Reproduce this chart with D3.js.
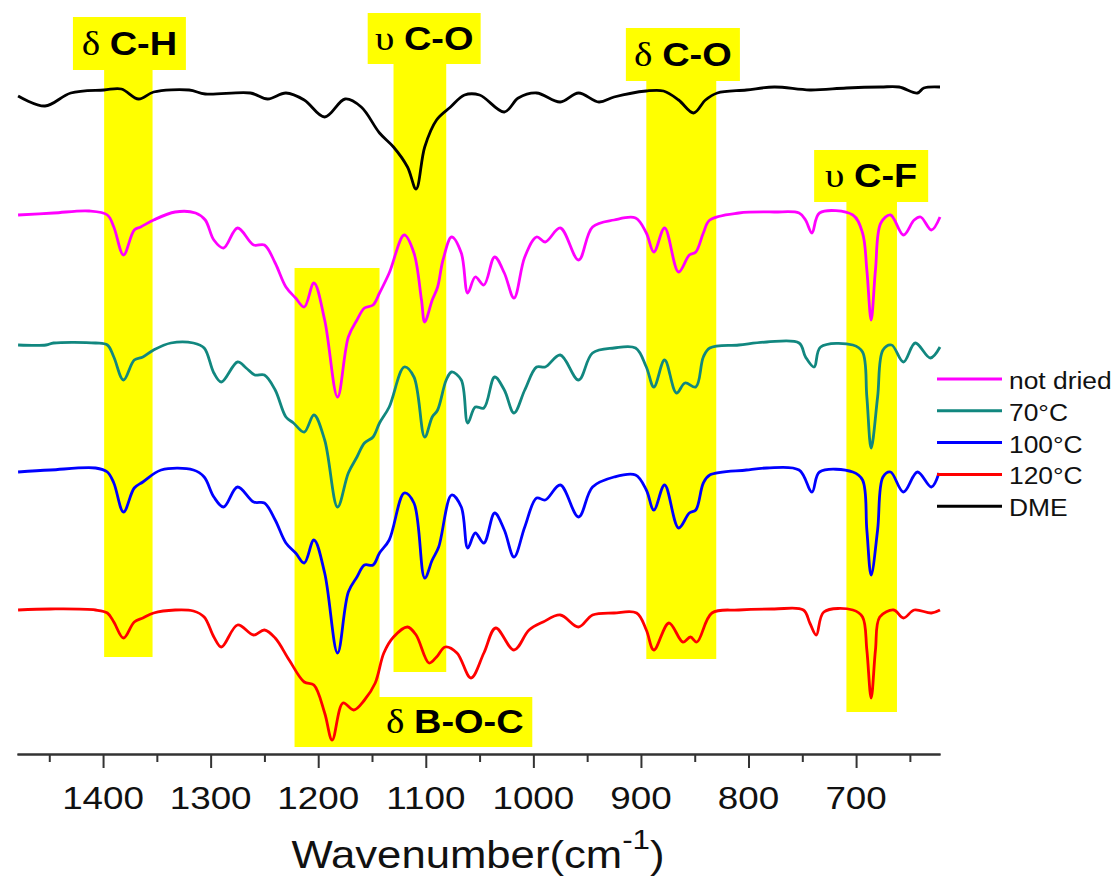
<!DOCTYPE html>
<html><head><meta charset="utf-8">
<script src="https://cdn.jsdelivr.net/npm/d3@7/dist/d3.min.js"></script>
<style>body{margin:0;background:#fff}svg{display:block}</style>
</head><body>
<svg id="chart" width="1118" height="881"></svg>
<script>
// ---------- data (wavenumber cm-1, transmittance a.u. with vertical offsets) ----------
const seriesNames  = ["not dried", "70°C", "100°C", "120°C", "DME"];
const seriesColors = ["#ff00ff", "#11877f", "#0000ff", "#ff0000", "#000000"];

const dme = [[1479,65.8],[1454,64.8],[1430,66.1],[1399,66.4],[1383,66.5],[1367,65.5],[1353,66.2],[1320,66.4],[1305,66.0],[1263,66.1],[1247,65.5],[1230,66.1],[1213,65.4],[1194,63.7],[1175,65.5],[1160,64.7],[1143,62.1],[1130,60.7],[1117,58.7],[1109,56.5],[1101,60.7],[1090,63.4],[1077,64.7],[1064,65.9],[1050,65.9],[1027,64.2],[1014,65.6],[997,66.1],[975,65.2],[958,66.1],[939,65.2],[925,65.7],[895,66.3],[879,66.3],[865,65.4],[851,64.1],[840,65.4],[829,66.1],[802,66.4],[776,66.7],[743,66.4],[709,66.6],[677,66.7],[660,66.7],[643,66.1],[637,66.6],[622,66.7]];

const notDried = [[1479,53.9],[1446,54.1],[1413,54.3],[1396,53.9],[1390,52.7],[1381,49.9],[1371,52.4],[1365,52.7],[1353,53.4],[1333,54.2],[1314,54.1],[1305,53.4],[1297,51.4],[1288,50.6],[1275,52.6],[1260,50.9],[1250,50.9],[1240,49.1],[1230,46.7],[1221,45.6],[1213,44.7],[1204,47.1],[1194,43.4],[1182,35.7],[1172,41.7],[1164,43.4],[1157,44.6],[1149,44.9],[1143,46.1],[1134,48.1],[1120,51.9],[1111,50.1],[1104,45.4],[1101,43.2],[1094,45.4],[1089,46.7],[1084,49.4],[1076,51.7],[1067,50.1],[1061,46.1],[1054,47.7],[1046,46.9],[1036,49.7],[1027,48.1],[1018,45.6],[1008,49.7],[997,51.7],[989,51.2],[975,52.6],[958,49.4],[945,52.7],[925,53.4],[905,53.6],[895,52.1],[888,50.2],[878,52.6],[865,48.2],[855,49.9],[849,50.2],[842,52.1],[836,53.4],[809,54.1],[776,54.2],[753,54.1],[747,53.4],[741,52.1],[734,54.1],[703,53.9],[694,52.1],[690,48.4],[686,43.4],[682,48.4],[677,53.1],[668,53.9],[656,51.9],[646,53.4],[640,53.7],[630,52.4],[622,53.7]];

const dried70 = [[1479,40.9],[1453,40.9],[1446,41.1],[1407,41.1],[1396,40.9],[1390,39.7],[1381,37.4],[1371,39.4],[1363,39.7],[1353,40.4],[1337,41.1],[1316,41.1],[1306,40.6],[1297,38.1],[1290,37.2],[1275,39.2],[1267,38.6],[1259,37.9],[1250,37.9],[1240,36.4],[1230,33.7],[1223,33.1],[1213,32.2],[1204,33.9],[1194,31.4],[1182,24.7],[1172,28.1],[1164,29.7],[1157,31.1],[1149,31.7],[1143,33.1],[1134,34.7],[1120,38.7],[1111,37.7],[1101,31.7],[1094,33.7],[1089,34.4],[1081,37.4],[1076,38.2],[1067,37.4],[1061,33.1],[1054,34.7],[1046,34.6],[1036,37.7],[1027,36.4],[1018,34.1],[1008,36.4],[997,38.7],[989,38.7],[975,39.9],[958,37.4],[945,40.1],[925,40.6],[905,40.6],[895,38.7],[888,36.7],[878,39.4],[867,36.1],[859,37.1],[849,36.7],[842,39.7],[836,40.6],[809,40.9],[783,41.2],[753,41.1],[747,39.7],[739,38.7],[733,40.7],[703,40.9],[694,40.2],[690,35.7],[686,30.6],[680,35.7],[675,40.4],[667,40.9],[656,39.2],[645,41.1],[631,39.6],[622,40.7]];

const dried100 = [[1479,28.2],[1449,28.4],[1407,28.6],[1396,28.2],[1390,27.1],[1381,24.2],[1371,26.6],[1363,27.2],[1346,28.4],[1316,28.4],[1306,27.7],[1297,25.7],[1288,24.7],[1275,26.7],[1260,25.2],[1250,25.1],[1240,23.4],[1230,21.1],[1221,20.1],[1213,19.1],[1204,21.4],[1194,18.1],[1182,10.1],[1172,16.2],[1164,17.7],[1157,18.9],[1149,18.9],[1143,20.1],[1134,21.4],[1120,26.1],[1111,25.1],[1101,17.6],[1094,19.4],[1088,20.7],[1076,25.9],[1067,24.7],[1061,20.6],[1054,22.1],[1046,21.1],[1036,24.1],[1027,22.4],[1018,19.7],[1008,22.7],[997,25.6],[989,25.4],[975,26.9],[958,23.7],[945,26.7],[925,27.7],[905,27.9],[895,26.4],[888,24.4],[878,26.9],[865,22.6],[855,24.1],[849,24.4],[842,27.1],[836,27.9],[802,28.4],[783,28.6],[753,28.4],[741,26.2],[734,28.2],[703,28.2],[694,27.4],[690,22.4],[686,17.9],[680,22.4],[675,27.7],[668,28.2],[656,26.2],[643,28.2],[630,26.7],[623,28.1]];

const dried120 = [[1479,14.4],[1449,14.5],[1407,14.4],[1396,14.1],[1390,13.2],[1381,11.6],[1371,13.2],[1363,13.6],[1353,14.1],[1333,14.4],[1316,14.3],[1306,13.7],[1297,11.7],[1290,10.7],[1275,12.9],[1260,11.9],[1250,12.4],[1240,11.6],[1227,9.4],[1213,7.2],[1204,6.9],[1194,4.1],[1187,1.4],[1177,5.1],[1167,4.4],[1157,5.4],[1147,7.1],[1139,10.1],[1130,11.7],[1117,12.7],[1109,11.9],[1097,9.1],[1090,9.7],[1082,10.7],[1071,10.1],[1058,7.6],[1046,10.1],[1035,12.6],[1018,10.4],[1004,12.4],[991,13.2],[975,13.9],[958,12.7],[945,13.9],[925,14.1],[904,14.1],[895,12.4],[888,10.4],[874,13.1],[861,11.2],[854,11.7],[848,11.2],[834,14.1],[809,14.4],[776,14.5],[749,14.4],[743,13.1],[737,11.9],[730,14.2],[703,14.4],[694,13.7],[690,10.4],[686,5.6],[682,10.4],[678,13.7],[665,14.4],[656,13.6],[646,14.4],[630,14.1],[622,14.4]];

const seriesData = [notDried, dried70, dried100, dried120, dme];

// highlighted bands (wavenumber ranges, transmittance extents)
const bandSymbols = ["δ", "υ", "δ", "υ", "δ"];
const bandNames   = ["C-H", "C-O", "C-O", "C-F", "B-O-C"];
const colFrom   = [1399, 1130, 895, 709, 1222];
const colTo     = [1354, 1081, 830, 662, 1143];
const colTop    = [68.4, 69.0, 67.3, 55.2, 48.6];
const colBottom = [9.7, 8.2, 9.5, 4.2, 0.7];
const boxFrom   = [1428, 1154, 914, 739, 1145];
const boxTo     = [1323, 1049, 808, 633, 1001];
const boxTop    = [73.7, 74.1, 72.6, 60.4, 5.7];
const boxBottom = [68.4, 69.0, 67.3, 55.2, 0.7];

const majorTicks = [1400, 1300, 1200, 1100, 1000, 900, 800, 700];
const minorTicks = [1450, 1350, 1250, 1150, 1050, 950, 850, 750, 650];
const xDomain = [1480, 622];
const yDomain = [0, 75.4];

// ---------- drawing ----------
const svg = d3.select("#chart");
const x = d3.scaleLinear().domain(xDomain).range([17, 940]);
const y = d3.scaleLinear().domain(yDomain).range([754, 0]);
const SANS = "'Liberation Sans', Arial, sans-serif";
const SERIF = "'Liberation Serif', 'Times New Roman', serif";

function scaledText(px, py, sx, anchor) {
  return svg.append("text")
    .attr("transform", `translate(${px},${py}) scale(${sx},1)`)
    .attr("text-anchor", anchor)
    .attr("fill", "#000");
}

// bands
const bands = svg.append("g");
bandNames.forEach((n, i) => {
  bands.append("rect")
    .attr("x", x(colFrom[i])).attr("width", x(colTo[i]) - x(colFrom[i]))
    .attr("y", y(colTop[i])).attr("height", y(colBottom[i]) - y(colTop[i]))
    .attr("fill", "#ffff00");
  bands.append("rect")
    .attr("x", x(boxFrom[i])).attr("width", x(boxTo[i]) - x(boxFrom[i]))
    .attr("y", y(boxTop[i])).attr("height", y(boxBottom[i]) - y(boxTop[i]))
    .attr("fill", "#ffff00");
});

// spectra
const line = d3.line().x(d => x(d[0])).y(d => y(d[1])).curve(d3.curveCatmullRom.alpha(0.5));
[4, 0, 1, 2, 3].forEach(i => {
  svg.append("path").datum(seriesData[i])
    .attr("d", line).attr("fill", "none")
    .attr("stroke", seriesColors[i]).attr("stroke-width", 2.8)
    .attr("stroke-linejoin", "round");
});

// band labels
bandNames.forEach((n, i) => {
  const cx = (x(boxFrom[i]) + x(boxTo[i])) / 2;
  const cy = (y(boxTop[i]) + y(boxBottom[i])) / 2 + 11;
  const t = scaledText(cx, cy, 1.15, "middle");
  t.append("tspan").attr("font-family", SERIF).attr("font-size", 34).text(bandSymbols[i]);
  t.append("tspan").attr("font-family", SANS).attr("font-size", 30).text(" ");
  t.append("tspan").attr("font-family", SANS).attr("font-weight", "bold").attr("font-size", 33).text(n);
});

// x axis
const axisG = svg.append("g").attr("transform", "translate(0,754)");
axisG.append("g").call(d3.axisBottom(x).tickValues(minorTicks).tickSize(8).tickSizeOuter(0).tickFormat(""));
axisG.append("g").call(d3.axisBottom(x).tickValues(majorTicks).tickSize(14).tickSizeOuter(0).tickFormat(""));
axisG.selectAll("path,line").attr("stroke", "#333").attr("stroke-width", 2);
majorTicks.forEach(v => {
  scaledText(x(v), 809, 1.15, "middle")
    .attr("font-family", SANS).attr("font-size", 32).attr("fill", "#111").text(v);
});

// axis title
const title = scaledText(478, 868, 1.12, "middle").attr("font-family", SANS).attr("font-size", 39).attr("fill", "#111");
title.append("tspan").text("Wavenumber(cm");
title.append("tspan").attr("font-size", 28).attr("dy", -19).text("-1");
title.append("tspan").attr("dy", 19).text(")");

// legend
seriesNames.forEach((n, i) => {
  const ly = 379 + i * 31.8;
  svg.append("line").attr("x1", 937).attr("x2", 1002).attr("y1", ly).attr("y2", ly)
    .attr("stroke", seriesColors[i]).attr("stroke-width", 3);
  scaledText(1009, ly + 10, 1.1, "start")
    .attr("font-family", SANS).attr("font-size", 24).attr("fill", "#111").text(n);
});
</script>
</body></html>
